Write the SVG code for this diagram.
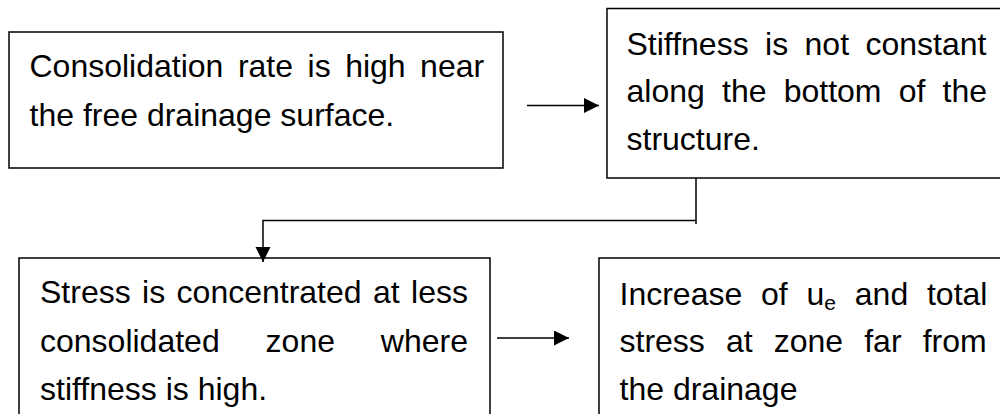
<svg xmlns="http://www.w3.org/2000/svg" width="1000" height="414" viewBox="0 0 1000 414">
  <style>
    .box { fill: #ffffff; stroke: #000000; stroke-width: 1.5; }
    .txt { font-family: "Liberation Sans", Arial, sans-serif; font-size: 32px; fill: #000000; }
    .conn { fill: none; stroke: #000000; stroke-width: 1.5; }
  </style>
  <defs>
    <marker id="arrow" markerUnits="userSpaceOnUse" markerWidth="16" markerHeight="16" refX="15" refY="7.5" orient="auto">
      <path d="M0,0 L15,7.5 L0,15 Z" fill="#000000"/>
    </marker>
  </defs>
  <rect width="1000" height="414" fill="#ffffff"/>

  <g id="node1">
    <rect class="box" x="9" y="32" width="494" height="136"/>
    <text class="txt" x="29.5" y="77" word-spacing="5.6">Consolidation rate is high near</text>
    <text class="txt" x="29.5" y="126">the free drainage surface.</text>
  </g>

  <g id="node2">
    <rect class="box" x="607" y="8.5" width="410" height="169.5"/>
    <text class="txt" x="626.5" y="55" word-spacing="7.5">Stiffness is not constant</text>
    <text class="txt" x="626.5" y="102" word-spacing="8.3">along the bottom of the</text>
    <text class="txt" x="626.5" y="150">structure.</text>
  </g>

  <g id="node3">
    <rect class="box" x="19" y="258" width="471" height="180"/>
    <text class="txt" x="40" y="303" word-spacing="2.5">Stress is concentrated at less</text>
    <text class="txt" x="40" y="352" word-spacing="37">consolidated zone where</text>
    <text class="txt" x="40" y="400">stiffness is high.</text>
  </g>

  <g id="node4">
    <rect class="box" x="599" y="258" width="420" height="180"/>
    <text class="txt" x="619.5" y="305" word-spacing="9.9">Increase of u<tspan font-size="21" dy="5">e</tspan><tspan dy="-5"> and total</tspan></text>
    <text class="txt" x="619.5" y="352" word-spacing="12.2">stress at zone far from</text>
    <text class="txt" x="619.5" y="400">the drainage</text>
  </g>

  <g id="connectors">
    <line class="conn" x1="527" y1="105.5" x2="599" y2="105.5" marker-end="url(#arrow)"/>
    <line class="conn" x1="696" y1="178" x2="696" y2="224"/>
    <polyline class="conn" points="696,220.5 263,220.5 263,262" marker-end="url(#arrow)"/>
    <line class="conn" x1="497" y1="338" x2="569" y2="338" marker-end="url(#arrow)"/>
  </g>
</svg>
